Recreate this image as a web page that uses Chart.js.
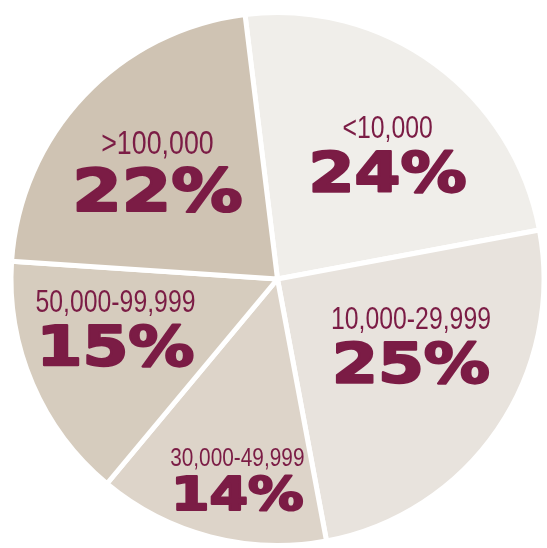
<!DOCTYPE html>
<html>
<head>
<meta charset="utf-8">
<script src="https://cdn.jsdelivr.net/npm/chart.js@4/dist/chart.umd.min.js"></script>
<style>
  html, body { margin: 0; padding: 0; background: #fff; }
  #wrap { position: relative; width: 547px; height: 548px; }
</style>
</head>
<body>
<div id="wrap"><canvas id="pie"></canvas></div>
<script>
// data (clockwise from 12 o'clock)
const categories = ["<10,000", "10,000-29,999", "30,000-49,999", "50,000-99,999", ">100,000"];
const shares = [24, 25, 14, 15, 22];

// styling
const sliceColors = ["#f0eeea", "#e8e3dd", "#ddd4c9", "#d6ccbe", "#cfc3b3"];
const textColor = "#7b1c45";
// label placement: fraction of radius, angular nudge (deg), size factor
const labelRadius = [0.64, 0.55, 0.75, 0.63, 0.62];
const labelTurn = [4, -10, -3, 8, 0];
const labelScale = [1, 1, 0.84, 1, 1.08];

const sliceLabels = {
  id: "sliceLabels",
  afterDatasetsDraw(chart) {
    const ctx = chart.ctx;
    const meta = chart.getDatasetMeta(0);
    meta.data.forEach((arc, i) => {
      const p = arc.getProps(["x", "y", "startAngle", "endAngle", "outerRadius"], true);
      const mid = (p.startAngle + p.endAngle) / 2 + labelTurn[i] * Math.PI / 180;
      const r = p.outerRadius * labelRadius[i];
      const cx = p.x + Math.cos(mid) * r;
      const cy = p.y + Math.sin(mid) * r;
      const s = labelScale[i];
      const gap = 44 * s;

      ctx.save();
      ctx.fillStyle = textColor;
      ctx.strokeStyle = textColor;
      ctx.textAlign = "center";
      ctx.textBaseline = "alphabetic";

      // category label: tall, condensed
      const small = 31 * s;
      ctx.save();
      ctx.translate(cx, cy - gap / 2 + small * 0.716 / 2);
      ctx.scale(0.8, 1);
      ctx.font = `400 ${small}px "Liberation Sans", Arial, sans-serif`;
      ctx.fillText(categories[i], 0, 0);
      ctx.restore();

      // percentage: heavy, wide
      const big = 55 * s;
      ctx.save();
      ctx.translate(cx, cy + gap / 2 + big * 0.729 / 2);
      ctx.scale(1.2, 1);
      ctx.font = `700 ${big}px "DejaVu Sans", sans-serif`;
      ctx.lineWidth = 2.2;
      ctx.lineJoin = "round";
      ctx.fillText(shares[i] + "%", 0, 0);
      ctx.strokeText(shares[i] + "%", 0, 0);
      ctx.restore();

      ctx.restore();
    });
  }
};

new Chart(document.getElementById("pie"), {
  type: "pie",
  data: {
    labels: categories,
    datasets: [{
      data: shares,
      backgroundColor: sliceColors,
      borderColor: "#ffffff",
      borderWidth: 5,
      hoverOffset: 0
    }]
  },
  options: {
    responsive: true,
    maintainAspectRatio: false,
    animation: false,
    rotation: -7,
    layout: { padding: { left: 8, top: 10, right: -2, bottom: -2 } },
    plugins: {
      legend: { display: false },
      tooltip: { enabled: false }
    }
  },
  plugins: [sliceLabels]
});
</script>
</body>
</html>
